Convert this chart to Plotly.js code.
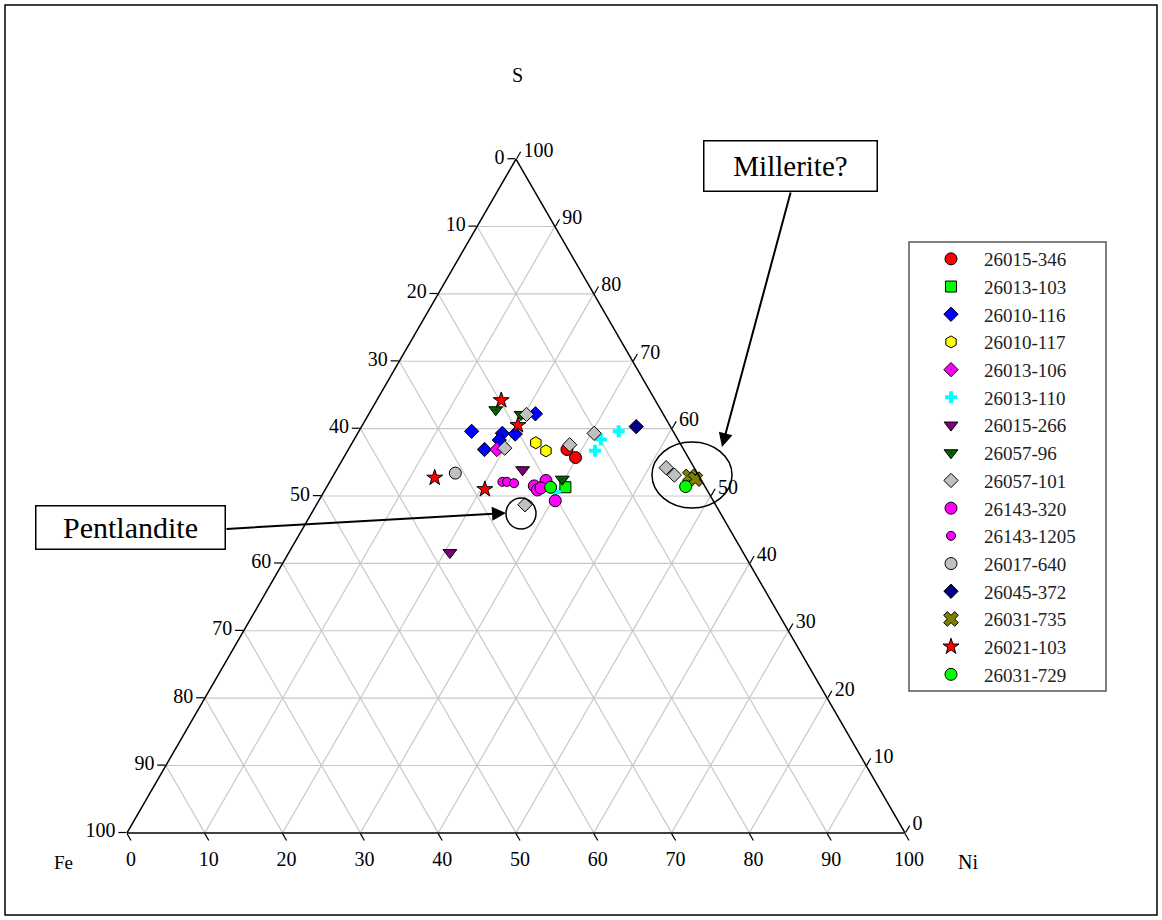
<!DOCTYPE html>
<html>
<head>
<meta charset="utf-8">
<script src="https://cdn.plot.ly/plotly-3.0.1.min.js"></script>
<style>html,body{margin:0;padding:0;background:#fff;}#chart{width:1162px;height:920px;}</style>
</head>
<body>
<div id="chart"></div>
<script>
// Each point: [S, Fe, Ni] (wt. proportions, sum 100)
const p26015_346 = [[56.9, 15.0, 28.1], [55.7, 14.5, 29.8]];
const p26013_103 = [[51.3, 18.0, 30.7]];
const p26010_116 = [[62.2, 16.4, 21.4], [59.6, 25.9, 14.5], [59.3, 22.1, 18.6], [59.2, 20.5, 20.3], [58.3, 23.0, 18.7], [56.9, 25.6, 17.5]];
const p26010_117 = [[57.9, 18.5, 23.6], [56.7, 17.8, 25.5]];
const p26013_106 = [[56.9, 24.0, 19.1]];
const p26013_110 = [[58.4, 9.9, 31.7], [56.7, 11.5, 31.8], [59.6, 7.0, 33.4], [50.6, 19.7, 29.7]];
const p26015_266 = [[53.9, 22.2, 23.9], [41.6, 37.7, 20.7]];
const p26057_96  = [[62.8, 21.2, 16.0], [62.1, 18.3, 19.6], [52.5, 17.8, 29.7]];
const p26057_101 = [[62.1, 17.6, 20.3], [57.1, 22.9, 20.0], [59.3, 10.3, 30.4], [57.6, 14.3, 28.1], [48.7, 24.5, 26.8], [54.2, 3.6, 42.2], [53.1, 3.1, 43.8]];
const p26143_320 = [[51.5, 21.9, 26.6], [50.9, 21.8, 27.3], [52.3, 20.0, 27.7], [49.3, 20.3, 30.4], [51.2, 21.2, 27.6]];
const p26143_1205 = [[52.1, 25.7, 22.2], [52.1, 25.1, 22.8], [51.9, 24.3, 23.8]];
const p26017_640 = [[53.4, 31.1, 15.5]];
const p26045_372 = [[60.3, 4.4, 35.3]];
const p26031_735 = [[52.9, 1.2, 45.9], [52.5, 0.7, 46.8]];
const p26021_103 = [[64.2, 19.8, 16.0], [60.5, 19.5, 20.0], [52.7, 34.1, 13.2], [51.0, 28.5, 20.5]];
const p26031_729 = [[51.3, 19.9, 28.8], [51.4, 2.5, 46.1]];

const seriesNames = ['26015-346','26013-103','26010-116','26010-117','26013-106','26013-110','26015-266','26057-96','26057-101','26143-320','26143-1205','26017-640','26045-372','26031-735','26021-103','26031-729'];
const seriesData = [p26015_346,p26013_103,p26010_116,p26010_117,p26013_106,p26013_110,p26015_266,p26057_96,p26057_101,p26143_320,p26143_1205,p26017_640,p26045_372,p26031_735,p26021_103,p26031_729];

const tickVals = [0,10,20,30,40,50,60,70,80,90,100];
const tickText = ['100','90','80','70','60','50','40','30','20','10','0'];

// styles
const symbols = ['circle','square','diamond','hexagon','diamond-dot','cross','triangle-down','triangle-down-dot','diamond','circle','circle','circle','diamond','x','star','circle'];
const colors  = ['#ff0000','#00ff00','#0000ff','#ffff00','#ff00ff','#00ffff','#800080','#006400','#c0c0c0','#ff00ff','#ff00ff','#c0c0c0','#000080','#808000','#ff0000','#00ff00'];
const sizes   = [12,11,11,12,11,10,12,12,11,12,9,12,11,13,12,12];
const lineW   = [1,1,1,1,1,0,1,1,1,1,1,1,1,1,1,1];

const traces = seriesNames.map((nm, i) => ({
  type: 'scatterternary',
  mode: 'markers',
  name: nm,
  a: seriesData[i].map(p => p[0]),
  b: seriesData[i].map(p => p[1]),
  c: seriesData[i].map(p => p[2]),
  marker: {symbol: symbols[i], color: colors[i], size: sizes[i],
           line: {color: '#000', width: lineW[i]}},
  cliponaxis: false
}));

const W = 1162, H = 920;
const px = v => v / W, py = v => 1 - v / H;
const serif = 'Liberation Serif, Times New Roman, serif';

function axisCfg() {
  return {
    title: {text: ''},
    min: 0,
    tickmode: 'array', tickvals: tickVals, ticktext: tickText,
    ticks: 'outside', ticklen: 8, tickwidth: 1.2, tickcolor: '#000',
    tickfont: {family: serif, size: 20, color: '#000'},
    showline: true, linecolor: '#000', linewidth: 1.5,
    showgrid: true, gridcolor: '#c8c8c8', gridwidth: 1.2
  };
}

function label(text, x, y, size) {
  return {text: text, xref: 'paper', yref: 'paper', x: px(x), y: py(y),
          xanchor: 'center', yanchor: 'middle', showarrow: false,
          font: {family: serif, size: size, color: '#000'}};
}

const layout = {
  width: W, height: H,
  margin: {l: 0, r: 0, t: 0, b: 0},
  paper_bgcolor: '#fff',
  font: {family: serif, color: '#000'},
  showlegend: true,
  legend: {x: px(918), y: py(240), xanchor: 'left', yanchor: 'top',
           bgcolor: 'rgba(0,0,0,0)', borderwidth: 0,
           font: {family: serif, size: 19, color: '#222'}, itemwidth: 56},
  ternary: {
    sum: 100,
    domain: {x: [px(127), px(905)], y: [py(834), py(158)]},
    bgcolor: '#fff',
    aaxis: axisCfg(), baxis: axisCfg(), caxis: axisCfg()
  },
  shapes: [
    {type: 'rect', xref: 'paper', yref: 'paper', x0: px(5), x1: px(1157), y0: py(5), y1: py(915),
     line: {color: '#000', width: 1.5}},
    {type: 'rect', xref: 'paper', yref: 'paper', x0: px(909), x1: px(1106), y0: py(242), y1: py(691),
     line: {color: '#555', width: 1.5}},
    {type: 'circle', xref: 'paper', yref: 'paper', x0: px(652), x1: px(732), y0: py(442), y1: py(508),
     line: {color: '#000', width: 1.5}},
    {type: 'circle', xref: 'paper', yref: 'paper', x0: px(506), x1: px(536), y0: py(498), y1: py(529),
     line: {color: '#000', width: 1.5}}
  ],
  annotations: [
    label('S', 517, 75, 20),
    label('Fe', 63, 862, 19),
    label('Ni', 968, 862, 20),
    Object.assign(label('Millerite?', 790, 165.5, 29),
      {width: 170, height: 47, bgcolor: '#fff', bordercolor: '#000', borderwidth: 1.5}),
    Object.assign(label('Pentlandite', 130, 527, 30),
      {width: 186, height: 40, bgcolor: '#fff', bordercolor: '#000', borderwidth: 1.5}),
    {text: '', xref: 'paper', yref: 'paper', x: px(722), y: py(447), showarrow: true,
     ax: 69, ay: -256, arrowhead: 2, arrowsize: 1.4, arrowwidth: 2, arrowcolor: '#000'},
    {text: '', xref: 'paper', yref: 'paper', x: px(506), y: py(513), showarrow: true,
     ax: -281, ay: 16, arrowhead: 2, arrowsize: 1.4, arrowwidth: 2, arrowcolor: '#000'}
  ]
};

Plotly.newPlot('chart', traces, layout, {displayModeBar: false, staticPlot: true});
</script>
</body>
</html>
